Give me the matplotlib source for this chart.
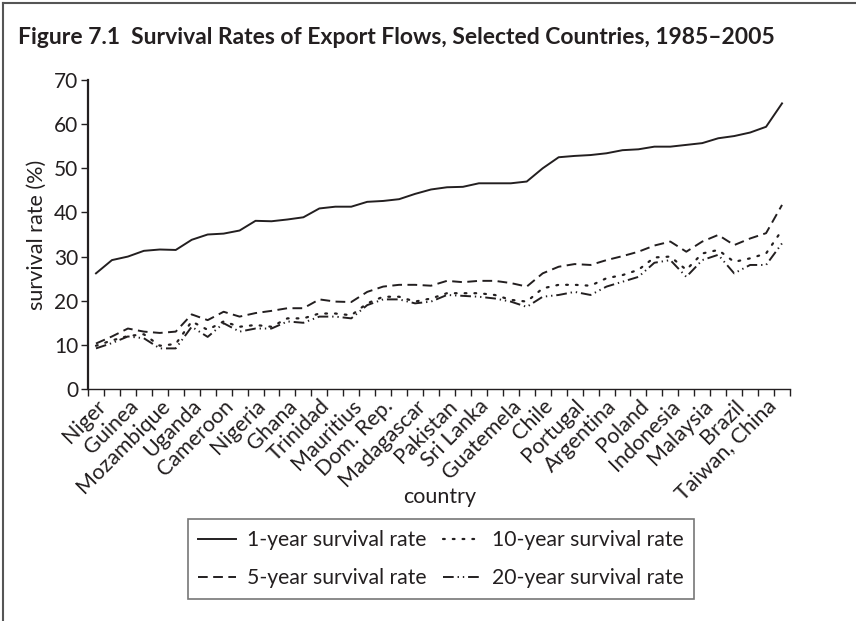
import matplotlib
matplotlib.use("Agg")
import matplotlib.pyplot as plt
from matplotlib.lines import Line2D
import numpy as np

plt.rcParams['font.family'] = ['Lato', 'DejaVu Sans']

countries = ["Niger", "Guinea", "Mozambique", "Uganda", "Cameroon", "Nigeria", "Ghana",
             "Trinidad", "Mauritius", "Dom. Rep.", "Madagascar", "Pakistan", "Sri Lanka",
             "Guatemela", "Chile", "Portugal", "Argentina", "Poland", "Indonesia",
             "Malaysia", "Brazil", "Taiwan, China"]

rate_1yr = [26.2, 29.2, 30.0, 31.3, 31.6, 31.5, 33.8, 35.0, 35.2, 35.9, 38.1, 38.0,
            38.4, 38.9, 40.9, 41.3, 41.3, 42.4, 42.6, 43.0, 44.2, 45.2, 45.7, 45.8,
            46.6, 46.6, 46.6, 47.0, 50.0, 52.5, 52.8, 53.0, 53.4, 54.1, 54.3, 54.9,
            54.9, 55.3, 55.7, 56.8, 57.3, 58.1, 59.4, 64.7]
rate_5yr = [10.3, 11.9, 13.7, 13.0, 12.7, 13.0, 16.9, 15.6, 17.5, 16.4, 17.2, 17.7,
            18.3, 18.3, 20.3, 19.8, 19.7, 22.0, 23.2, 23.6, 23.6, 23.4, 24.5, 24.2,
            24.5, 24.5, 24.0, 23.2, 26.2, 27.7, 28.3, 28.1, 29.2, 30.1, 31.1, 32.5,
            33.4, 31.1, 33.4, 34.9, 32.6, 34.1, 35.3, 41.7]
rate_10yr = [9.8, 11.0, 12.0, 12.4, 9.8, 10.2, 15.3, 13.4, 15.3, 14.1, 14.5, 14.1,
             16.0, 16.0, 17.1, 17.1, 16.7, 19.4, 20.9, 20.9, 19.8, 20.5, 21.7, 21.7,
             21.7, 21.3, 20.2, 19.8, 22.8, 23.6, 23.6, 23.4, 25.1, 25.8, 27.0, 29.8,
             30.0, 27.0, 30.7, 31.5, 28.8, 29.6, 30.7, 36.0]
rate_20yr = [9.2, 10.4, 11.9, 11.5, 9.2, 9.2, 14.1, 11.8, 14.9, 13.0, 13.7, 13.7,
             15.3, 15.0, 16.4, 16.4, 16.0, 19.0, 20.3, 20.3, 19.4, 19.8, 21.3, 21.1,
             20.9, 20.5, 19.8, 18.6, 20.9, 21.3, 22.0, 21.3, 23.2, 24.3, 25.4, 28.6,
             29.2, 25.4, 29.2, 30.4, 26.2, 28.1, 28.1, 33.0]

W, H = 856, 621
fig = plt.figure(figsize=(W / 100, H / 100), dpi=100)

# figure frame (left and top)
fig.add_artist(Line2D([3 / W, 3 / W], [0, 1 - 3 / H], color="#555555", lw=1.5, transform=fig.transFigure))
fig.add_artist(Line2D([3 / W, 1], [1 - 3 / H, 1 - 3 / H], color="#555555", lw=1.5, transform=fig.transFigure))

c = "#231f20"
fig.text(18 / W, 1 - 37 / H, "Figure 7.1  Survival Rates of Export Flows, Selected Countries, 1985\u20132005",
         fontsize=16.5, fontweight="bold", color=c, va="center", ha="left")

ax = fig.add_axes([88 / W, 1 - 389 / H, (790 - 88) / W, (389 - 80) / H])
x = np.arange(len(rate_1yr))
ax.plot(x, rate_1yr, color=c, lw=1.4, ls="-", label="1-year survival rate")
ax.plot(x, rate_10yr, color=c, lw=1.6, ls=(0, (0.8, 3.6)), dash_capstyle="round", label="10-year survival rate")
ax.plot(x, rate_5yr, color=c, lw=1.4, ls=(0, (5, 2.8)), label="5-year survival rate")
ax.plot(x, rate_20yr, color=c, lw=1.4, ls=(0, (5.5, 2, 0.7, 2, 0.7, 2)), label="20-year survival rate")

n = len(rate_1yr)
ax.set_xlim(-0.5, n - 0.5)
ax.set_ylim(0, 70)
ax.spines["top"].set_visible(False)
ax.spines["right"].set_visible(False)
ax.spines["left"].set_linewidth(1.6)
ax.spines["bottom"].set_linewidth(1.0)
for s in ax.spines.values():
    s.set_color(c)
ax.set_yticks(range(0, 71, 10))
ax.tick_params(axis="y", labelsize=15, length=5, width=1, colors=c, pad=2)
ax.set_xticks(np.arange(-0.5, n, 1.0))
ax.set_xticklabels([])
ax.tick_params(axis="x", which="major", length=5, width=1, colors=c)
ax.set_xticks(np.arange(0, n, 2), minor=True)
ax.set_xticklabels(countries, minor=True, rotation=45, ha="right", va="top", rotation_mode="anchor", fontsize=15.5, color=c)
ax.tick_params(axis="x", which="minor", length=0, pad=5)

ax.set_ylabel("survival rate (%)", fontsize=15.5, color=c, labelpad=5)
fig.text(440 / W, 1 - 497 / H, "country", fontsize=15.5, color=c, ha="center", va="center")

handles, labels = ax.get_legend_handles_labels()
order = [0, 2, 1, 3]
leg = fig.legend([handles[i] for i in order], [labels[i] for i in order], ncol=2,
                 loc="center", bbox_to_anchor=(441 / W, 1 - 559 / H), fontsize=15.2,
                 frameon=True, fancybox=False, edgecolor="#555555", handlelength=1.8,
                 columnspacing=0.8, handletextpad=0.5, borderpad=0.5, labelspacing=0.85)
leg.get_frame().set_linewidth(1.2)
for t in leg.get_texts():
    t.set_color(c)

fig.savefig("out.png", dpi=100)
